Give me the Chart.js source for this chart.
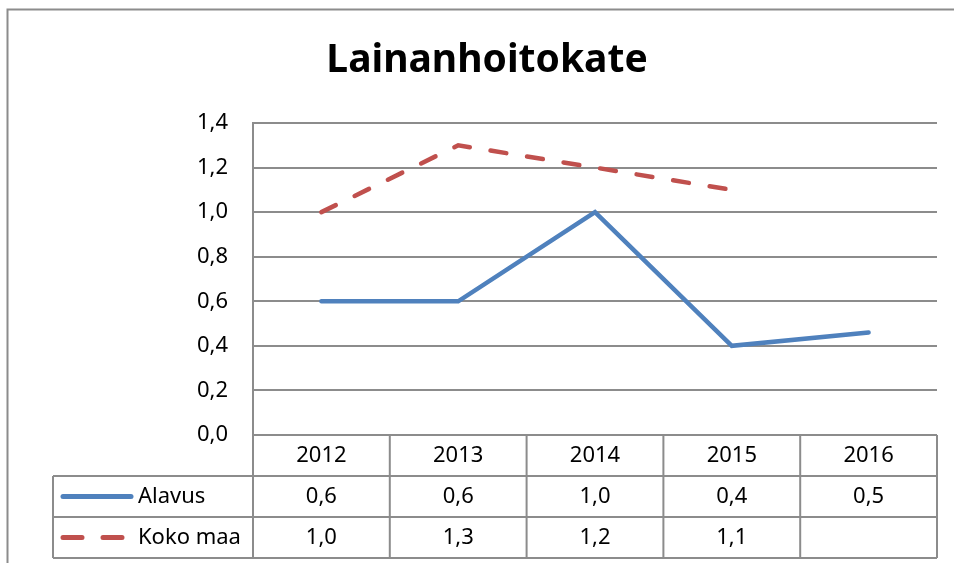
<!DOCTYPE html>
<html lang="fi">
<head>
  <meta charset="UTF-8" />
  <title>Lainanhoitokate</title>
  <script src="https://cdn.jsdelivr.net/npm/chart.js"></script>
  <style>
    body { margin: 0; background: #fff; }
    .wrap { width: 954px; height: 563px; position: relative; }
  </style>
</head>
<body>
  <div class="wrap"><canvas id="chart"></canvas></div>

<script>
const years = ['2012', '2013', '2014', '2015', '2016'];
const alavus = [0.6, 0.6, 1.0, 0.4, 0.46];
const kokoMaa = [1.0, 1.3, 1.2, 1.1, null];
const yTicks = [0, 0.2, 0.4, 0.6, 0.8, 1.0, 1.2, 1.4];

const FONT = "'Noto Sans', sans-serif";
const GRID = '#8c8c8c';
const fmt = v => v == null ? '' : v.toFixed(1).replace('.', ',');

// frame, title and the data table under the plot
const excelBits = {
  id: 'excelBits',
  afterDraw(chart) {
    const ctx = chart.ctx;
    const area = chart.chartArea;
    const x = chart.scales.x;
    const colW = (area.right - area.left) / years.length;
    const tableLeft = 53;
    const rowH = 41;
    const r0 = area.bottom, r1 = r0 + rowH, r2 = r1 + rowH, r3 = r2 + rowH;

    ctx.save();
    // outer frame (top + left only visible)
    ctx.strokeStyle = GRID;
    ctx.lineWidth = 2;
    ctx.beginPath();
    ctx.moveTo(954, 9.5); ctx.lineTo(7.5, 9.5); ctx.lineTo(7.5, 563);
    ctx.stroke();

    // title
    ctx.fillStyle = '#000';
    ctx.font = "bold 39px " + FONT;
    ctx.textAlign = 'center';
    ctx.textBaseline = 'middle';
    ctx.fillText('Lainanhoitokate', 487, 61);

    // table grid
    ctx.strokeStyle = GRID;
    ctx.lineWidth = 2;
    ctx.beginPath();
    ctx.moveTo(area.left, r0); ctx.lineTo(area.right, r0);
    [r1, r2, r3].forEach(y => { ctx.moveTo(tableLeft, y); ctx.lineTo(area.right, y); });
    ctx.moveTo(tableLeft, r1); ctx.lineTo(tableLeft, r3);
    for (let i = 0; i <= years.length; i++) {
      const cx = area.left + i * colW;
      ctx.moveTo(cx, r0); ctx.lineTo(cx, r3);
    }
    ctx.stroke();

    // cell texts
    ctx.font = "22px " + FONT;
    ctx.fillStyle = '#000';
    years.forEach((yr, i) => {
      const cx = x.getPixelForValue(i);
      ctx.fillText(yr, cx, (r0 + r1) / 2);
      ctx.fillText(fmt(alavus[i]), cx, (r1 + r2) / 2);
      ctx.fillText(fmt(kokoMaa[i]), cx, (r2 + r3) / 2);
    });

    // legend keys in first column
    ctx.lineCap = 'round';
    ctx.lineWidth = 5;
    ctx.strokeStyle = '#4f81bd';
    ctx.beginPath();
    ctx.moveTo(63, (r1 + r2) / 2); ctx.lineTo(131, (r1 + r2) / 2);
    ctx.stroke();
    ctx.strokeStyle = '#c0504d';
    ctx.beginPath();
    ctx.moveTo(63, (r2 + r3) / 2); ctx.lineTo(82, (r2 + r3) / 2);
    ctx.moveTo(103, (r2 + r3) / 2); ctx.lineTo(122, (r2 + r3) / 2);
    ctx.stroke();

    ctx.textAlign = 'left';
    ctx.fillText('Alavus', 138, (r1 + r2) / 2);
    ctx.fillText('Koko maa', 138, (r2 + r3) / 2);
    ctx.restore();
  }
};

new Chart(document.getElementById('chart'), {
  type: 'line',
  data: {
    labels: years,
    datasets: [
      { label: 'Alavus', data: alavus, borderColor: '#4f81bd', borderWidth: 4.5,
        borderCapStyle: 'round', pointRadius: 0, tension: 0 },
      { label: 'Koko maa', data: kokoMaa, borderColor: '#c0504d', borderWidth: 4.5,
        borderDash: [16, 21], borderCapStyle: 'round', pointRadius: 0, tension: 0 }
    ]
  },
  options: {
    responsive: true,
    maintainAspectRatio: false,
    animation: false,
    layout: { padding: { top: 123, bottom: 128, right: 17, left: 0 } },
    plugins: { legend: { display: false }, tooltip: { enabled: false } },
    scales: {
      x: { display: false, offset: true },
      y: {
        min: 0, max: 1.4,
        afterBuildTicks: s => { s.ticks = yTicks.map(v => ({ value: v })); },
        afterFit: s => { s.width = 253; },
        grid: { color: GRID, lineWidth: 2, drawTicks: false },
        border: { color: GRID, width: 2 },
        ticks: {
          padding: 25, color: '#000',
          font: { family: FONT, size: 22 },
          callback: v => fmt(v)
        }
      }
    }
  },
  plugins: [excelBits]
});
</script>
</body>
</html>
